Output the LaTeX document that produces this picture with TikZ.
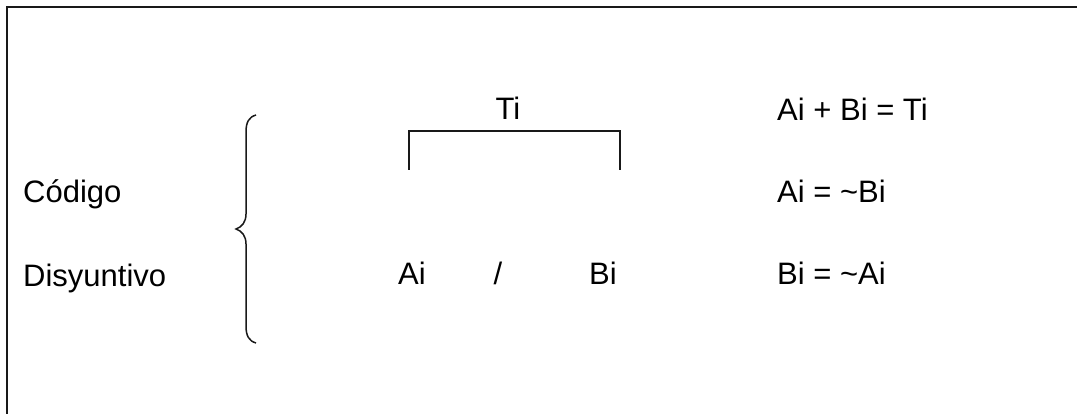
\documentclass[tikz,border=0pt]{standalone}
\usepackage{fontspec}
\setmainfont{Liberation Sans}
\begin{document}
\begin{tikzpicture}[x=1pt,y=-1pt,
  lbl/.style={inner sep=0pt,anchor=base west,font=\fontsize{31}{36}\selectfont},
  lblc/.style={inner sep=0pt,anchor=base,font=\fontsize{31}{36}\selectfont},
  frame/.style={line width=2pt,draw=black!90},
  stroke/.style={line width=1.5pt,draw=black!90}]
\useasboundingbox (0,0) rectangle (1077,414);
% open frame (top and left)
\draw[frame] (7,414) -- (7,7) -- (1077,7);
% labels on the left
\node[lbl] (codigo) at (23,203) {Código};
\node[lbl] (disy) at (23,287) {Disyuntivo};
% brace
\draw[stroke] (256,115) .. controls (249,117) and (246,122) .. (246,132)
  -- (246,214) .. controls (246,222) and (242,227) .. (236,229)
  .. controls (242,231) and (246,236) .. (246,244)
  -- (246,326) .. controls (246,336) and (249,341) .. (256,343);
% bracket and Ti
\draw[stroke] (409,170) -- (409,131) -- (620,131) -- (620,170);
\node[lblc] (ti) at (508,120) {Ti};
% Ai / Bi
\node[lbl] (ai) at (398,285) {Ai};
\node[lblc] (slash) at (498,285) {/};
\node[lbl] (bi) at (589,285) {Bi};
% equations
\node[lbl] (eq1) at (777,121) {Ai + Bi = Ti};
\node[lbl] (eq2) at (777,203) {Ai = \char"7E Bi};
\node[lbl] (eq3) at (777,285) {Bi = \char"7E Ai};
\end{tikzpicture}
\end{document}
